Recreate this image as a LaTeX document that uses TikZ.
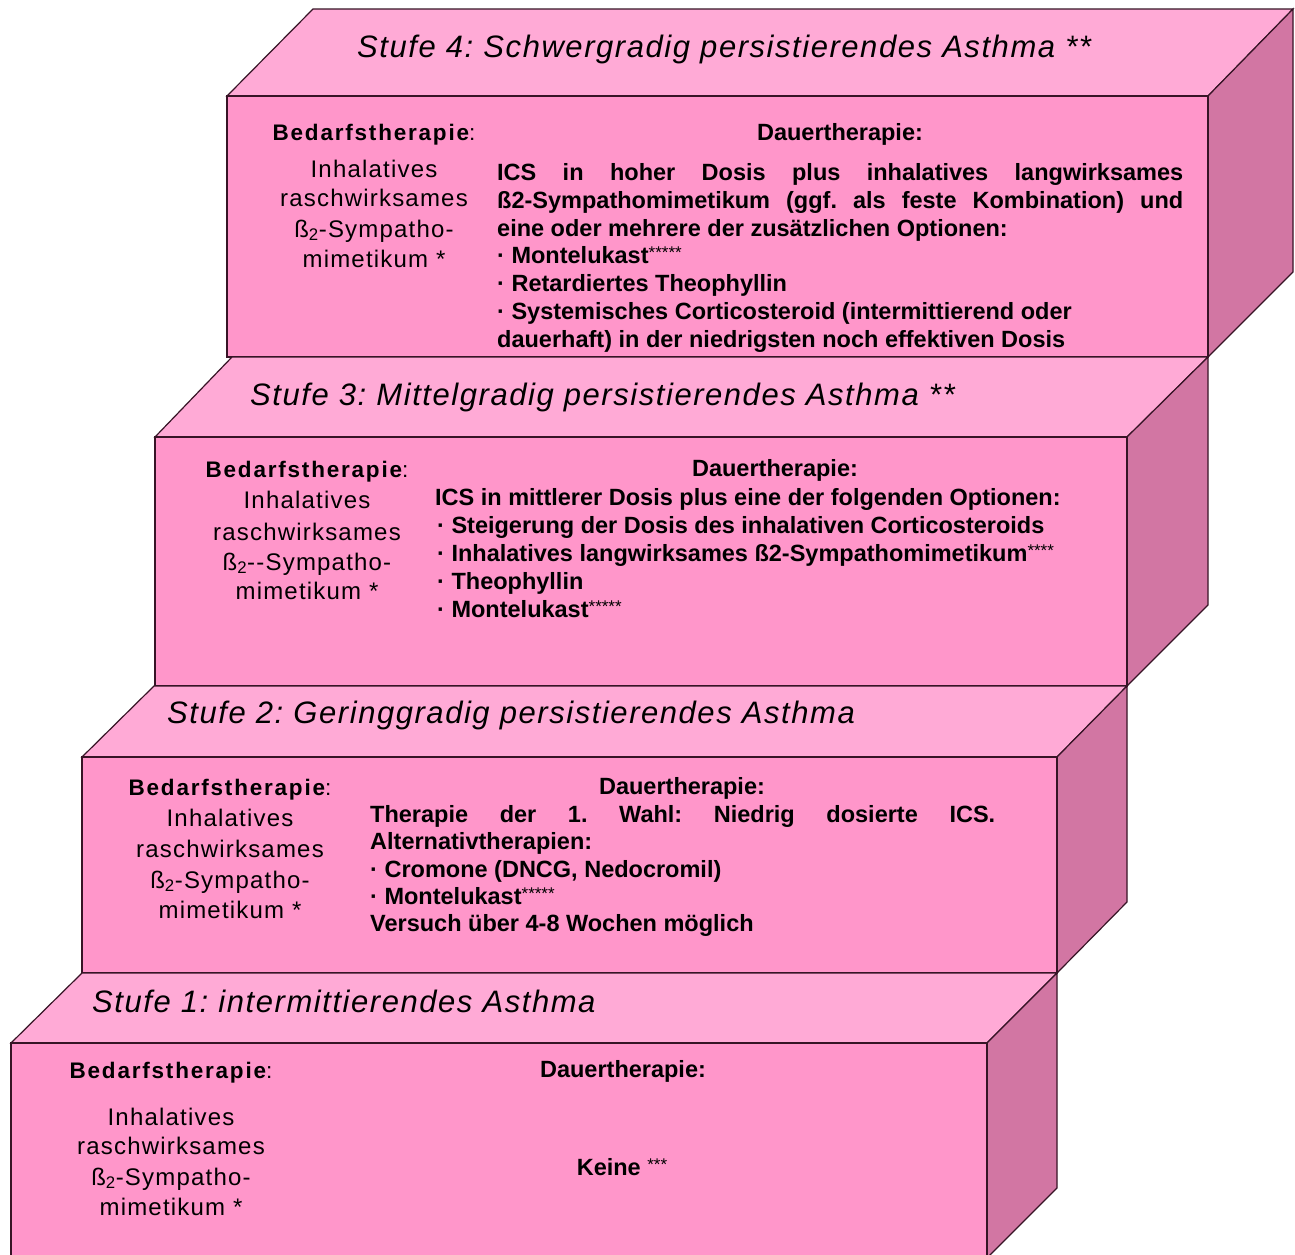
\documentclass[tikz,border=0pt]{standalone}
\usepackage{fontspec}
\setmainfont{Liberation Sans}
\newfontfamily\hfont[LetterSpace=5]{Liberation Sans}
\newfontfamily\bedfont[LetterSpace=8]{Liberation Sans}
\newfontfamily\ltfont[LetterSpace=5]{Liberation Sans}
\definecolor{frontc}{RGB}{255,150,202}
\definecolor{topc}{RGB}{255,170,214}
\definecolor{sidec}{RGB}{210,118,163}
\definecolor{edgec}{RGB}{55,20,38}
\newcommand\astx[1]{\raisebox{4.5pt}{\mdseries\fontsize{17}{17}\selectfont #1}}
\newcommand\bedtxt{Bedarfstherapie{\mdseries:}}
\frenchspacing
\begin{document}
\frenchspacing
\begin{tikzpicture}[x=1pt,y=-1pt,
  frontface/.style={fill=frontc,draw=edgec,line width=1.2pt},
  topface/.style={fill=topc,draw=edgec,line width=1.2pt},
  sideface/.style={fill=sidec,draw=edgec,line width=1.2pt},
  ttl/.style={anchor=base west,inner sep=0pt,font=\hfont\itshape\fontsize{31}{31}\selectfont},
  bed/.style={anchor=base,inner sep=0pt,font=\bedfont\bfseries\fontsize{22.5}{22.5}\selectfont},
  lt/.style={anchor=base,inner sep=0pt,font=\ltfont\fontsize{24}{24}\selectfont},
  dau/.style={anchor=base,inner sep=0pt,font=\bfseries\fontsize{23.5}{23.5}\selectfont},
  body/.style={anchor=base west,inner sep=0pt,font=\bfseries\fontsize{23.5}{23.5}\selectfont}]
\useasboundingbox (0,0) rectangle (1295,1254);
\fill[white] (0,0) rectangle (1295,1254);
\clip (0,0) rectangle (1295,1254);
% ---------- Stufe 4 ----------
\draw[topface] (227,96) -- (313,9) -- (1293,9) -- (1208,96) -- cycle;
\draw[sideface] (1208,96) -- (1293,9) -- (1293,272) -- (1208,357) -- cycle;
\draw[frontface] (227,96) rectangle (1208,357);
% ---------- Stufe 3 ----------
\draw[topface] (155,437) -- (232,357) -- (1208,357) -- (1127,437) -- cycle;
\draw[sideface] (1127,437) -- (1208,357) -- (1208,605) -- (1127,686) -- cycle;
\draw[frontface] (155,437) rectangle (1127,686);
% ---------- Stufe 2 ----------
\draw[topface] (82,757) -- (154,686) -- (1127,686) -- (1057,757) -- cycle;
\draw[sideface] (1057,757) -- (1127,686) -- (1127,902) -- (1057,973) -- cycle;
\draw[frontface] (82,757) rectangle (1057,973);
% ---------- Stufe 1 ----------
\draw[topface] (11,1043) -- (82,973) -- (1057,973) -- (987,1043) -- cycle;
\draw[sideface] (987,1043) -- (1057,973) -- (1057,1188) -- (987,1258) -- cycle;
\draw[frontface] (11,1043) rectangle (987,1262);

% ---------- Texts Stufe 4 ----------
\node[ttl] (t4) at (357,57) {Stufe 4: Schwergradig persistierendes Asthma **};
\node[bed] (b4) at (374,140) {\bedtxt};
\node[lt] (l4a) at (374,177) {Inhalatives};
\node[lt] (l4b) at (374,206) {raschwirksames};
\node[lt] (l4c) at (374,237) {ß\textsubscript{2}-Sympatho-};
\node[lt] (l4d) at (374,267) {mimetikum *};
\node[dau] (d4) at (840,140) {Dauertherapie:};
\node[body] (p4a) at (497,180) {\makebox[686pt][s]{ICS in hoher Dosis plus inhalatives langwirksames}};
\node[body] (p4b) at (497,208) {\makebox[686pt][s]{ß2-Sympathomimetikum (ggf. als feste Kombination) und}};
\node[body] (p4c) at (497,236) {eine oder mehrere der zusätzlichen Optionen:};
\node[body] (p4d) at (497,263) {· Montelukast\astx{*****}};
\node[body] (p4e) at (497,291) {· Retardiertes Theophyllin};
\node[body] (p4f) at (497,319) {· Systemisches Corticosteroid (intermittierend oder};
\node[body] (p4g) at (497,347) {dauerhaft) in der niedrigsten noch effektiven Dosis};

% ---------- Texts Stufe 3 ----------
\node[ttl] (t3) at (250,405) {Stufe 3: Mittelgradig persistierendes Asthma **};
\node[bed] (b3) at (307,477) {\bedtxt};
\node[lt] (l3a) at (307,508) {Inhalatives};
\node[lt] (l3b) at (307,540) {raschwirksames};
\node[lt] (l3c) at (307,570) {ß\textsubscript{2}-{}-Sympatho-};
\node[lt] (l3d) at (307,599) {mimetikum *};
\node[dau] (d3) at (775,476) {Dauertherapie:};
\node[body] (p3a) at (435,505) {ICS in mittlerer Dosis plus eine der folgenden Optionen:};
\node[body] (p3b) at (437,533) {· Steigerung der Dosis des inhalativen Corticosteroids};
\node[body] (p3c) at (437,561) {· Inhalatives langwirksames ß2-Sympathomimetikum\astx{****}};
\node[body] (p3d) at (437,589) {· Theophyllin};
\node[body] (p3e) at (437,617) {· Montelukast\astx{*****}};

% ---------- Texts Stufe 2 ----------
\node[ttl] (t2) at (167,723) {Stufe 2: Geringgradig persistierendes Asthma};
\node[bed] (b2) at (230,795) {\bedtxt};
\node[lt] (l2a) at (230,826) {Inhalatives};
\node[lt] (l2b) at (230,857) {raschwirksames};
\node[lt] (l2c) at (230,888) {ß\textsubscript{2}-Sympatho-};
\node[lt] (l2d) at (230,918) {mimetikum *};
\node[dau] (d2) at (682,794) {Dauertherapie:};
\node[body] (p2a) at (370,822) {\makebox[625pt][s]{Therapie der 1. Wahl: Niedrig dosierte ICS.}};
\node[body] (p2b) at (370,849) {Alternativtherapien:};
\node[body] (p2c) at (370,877) {· Cromone (DNCG, Nedocromil)};
\node[body] (p2d) at (370,904) {· Montelukast\astx{*****}};
\node[body] (p2e) at (370,931) {Versuch über 4-8 Wochen möglich};

% ---------- Texts Stufe 1 ----------
\node[ttl] (t1) at (92,1012) {Stufe 1: intermittierendes Asthma};
\node[bed] (b1) at (171,1078) {\bedtxt};
\node[lt] (l1a) at (171,1125) {Inhalatives};
\node[lt] (l1b) at (171,1154) {raschwirksames};
\node[lt] (l1c) at (171,1185) {ß\textsubscript{2}-Sympatho-};
\node[lt] (l1d) at (171,1215) {mimetikum *};
\node[dau] (d1) at (623,1077) {Dauertherapie:};
\node[dau] (k1) at (622,1175) {Keine \astx{***}};
\end{tikzpicture}
\end{document}
